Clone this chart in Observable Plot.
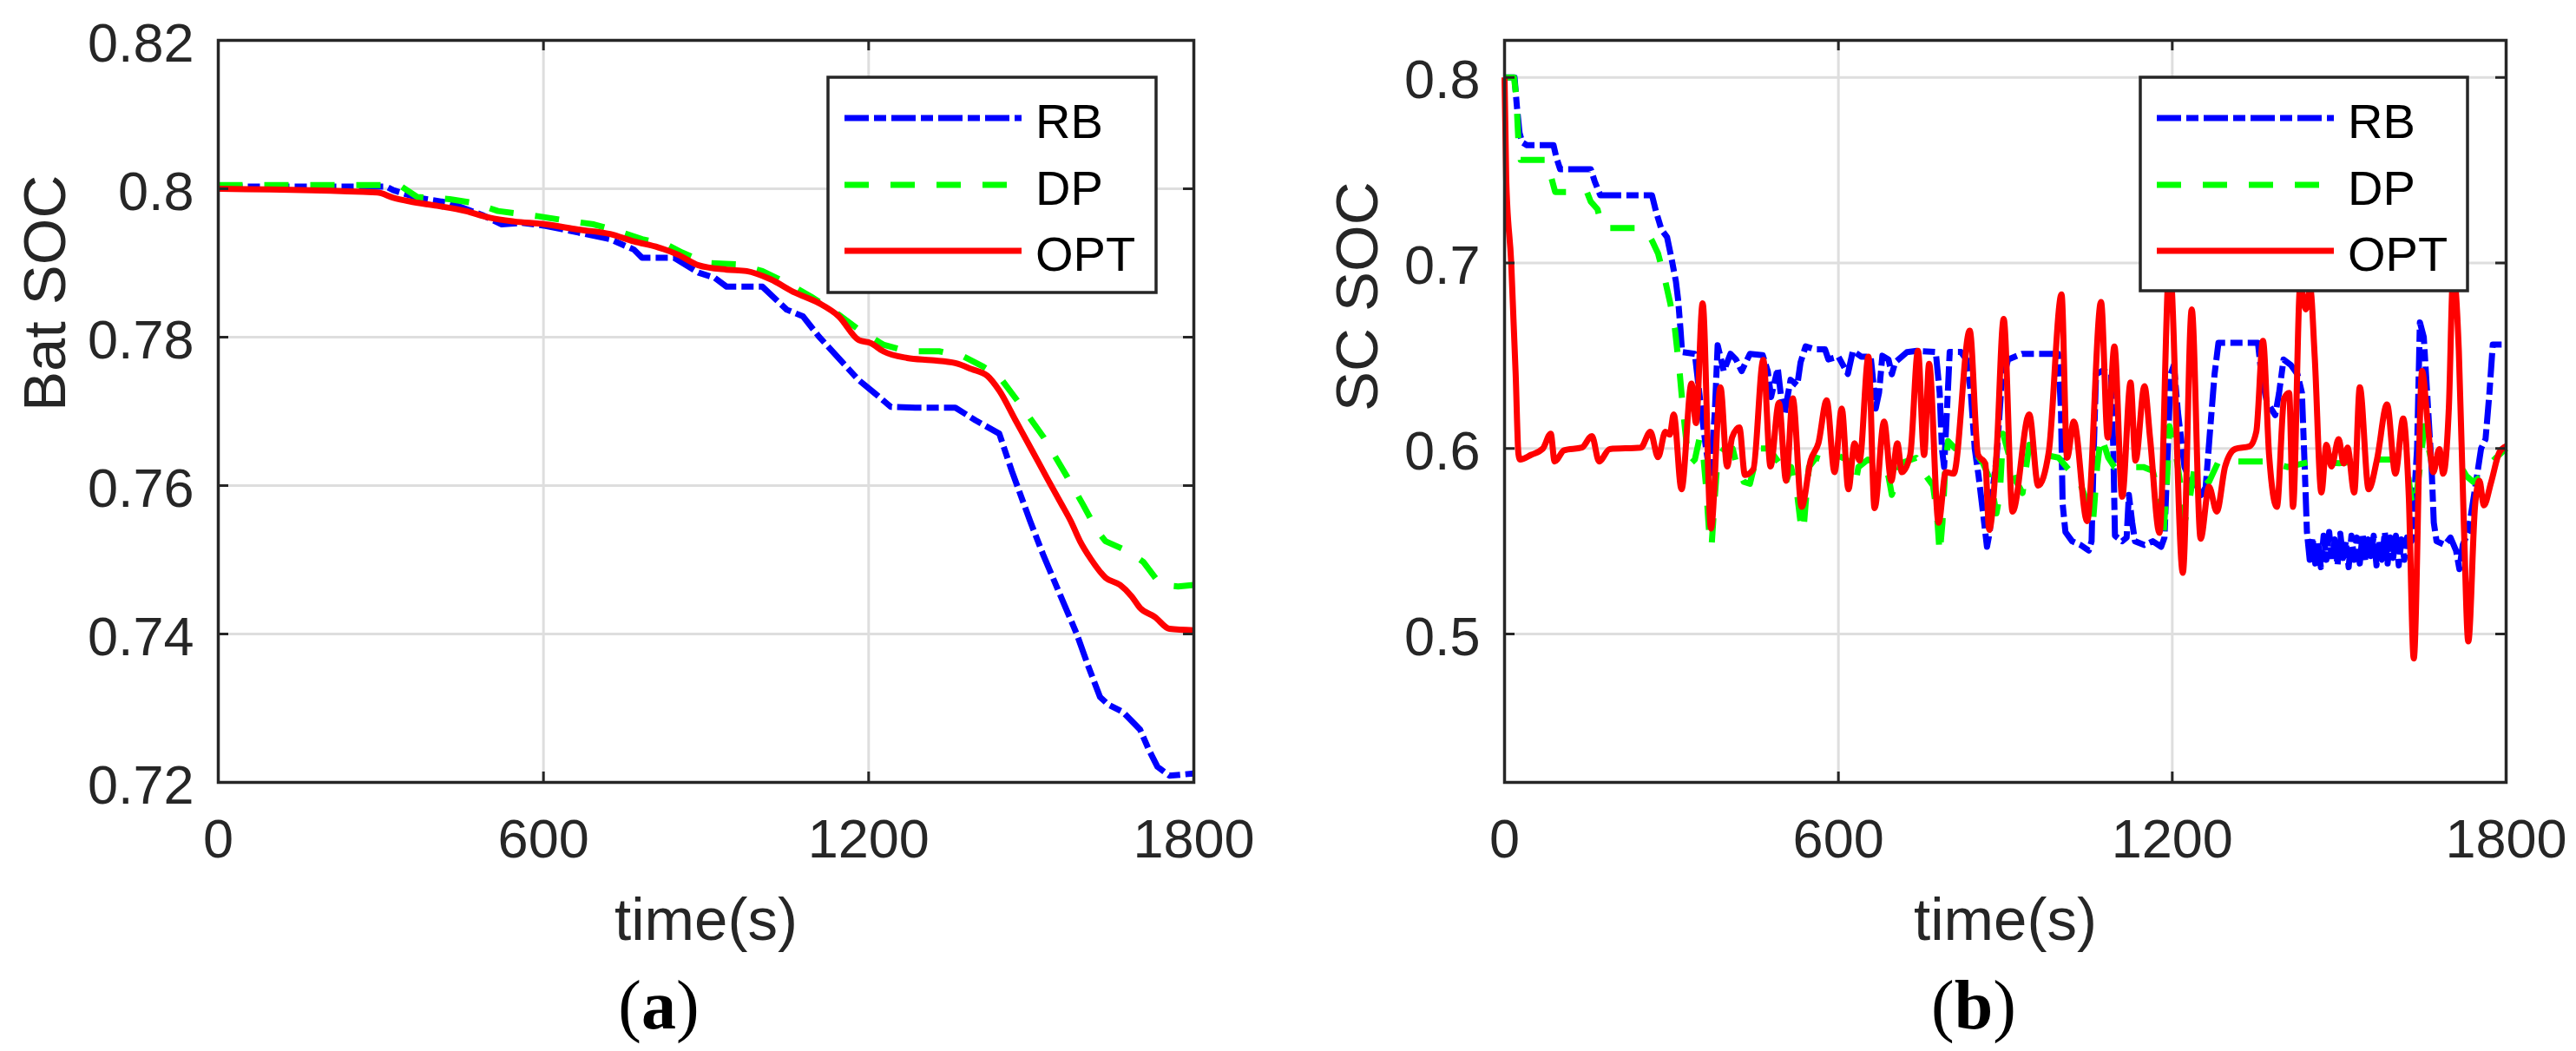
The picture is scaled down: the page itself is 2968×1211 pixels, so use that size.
<!DOCTYPE html>
<html><head><meta charset="utf-8">
<script src="https://cdn.jsdelivr.net/npm/d3@7"></script>
<script src="https://cdn.jsdelivr.net/npm/@observablehq/plot@0.6"></script>
<style>
html,body{margin:0;padding:0;background:#fff;}
#wrap{position:relative;width:2968px;height:1211px;background:#fff;overflow:hidden;}
#wrap > svg{position:absolute;top:0;}
</style></head><body><div id="wrap"></div>
<script>
// ---------- shared labels / styles ----------
const seriesNames = ["RB", "DP", "OPT"];
const seriesColors = ["#0000ff", "#00ff00", "#ff0000"];
const seriesDash = ["28,6,14,6", "28,25", null];
const timeTicks = [0, 600, 1200, 1800];
const batTicks = [0.72, 0.74, 0.76, 0.78, 0.8, 0.82];
const scTicks = [0.5, 0.6, 0.7, 0.8];
const xLabel = "time(s)";
const batLabel = "Bat SOC";
const scLabel = "SC SOC";
const captions = ["a", "b"];

// ---------- panel (a): battery SOC ----------
const batRB = [[0,0.8003],[310,0.8003],[323,0.7998],[367,0.7988],[427,0.7981],[486,0.7965],[523,0.7952],[560,0.7954],[604,0.795],[664,0.7941],[723,0.7932],[767,0.7918],[782,0.7907],[841,0.7907],[886,0.7887],[916,0.788],[938,0.7868],[1004,0.7868],[1049,0.7837],[1079,0.7828],[1108,0.7801],[1153,0.7765],[1182,0.7742],[1212,0.7724],[1241,0.7706],[1286,0.7705],[1360,0.7705],[1397,0.7688],[1441,0.767],[1464,0.762],[1498,0.7552],[1523,0.7505],[1552,0.7455],[1584,0.74],[1605,0.7357],[1627,0.7315],[1642,0.7305],[1669,0.7295],[1701,0.7271],[1717,0.7244],[1733,0.7221],[1755,0.7209],[1800,0.7212]];
const batDP = [[0,0.8005],[320,0.8005],[338,0.8003],[367,0.7989],[427,0.7986],[471,0.7981],[516,0.797],[590,0.7963],[634,0.7958],[693,0.7952],[738,0.7943],[782,0.7932],[827,0.7925],[856,0.7914],[901,0.79],[960,0.7898],[1004,0.7889],[1049,0.7873],[1093,0.7855],[1138,0.7834],[1182,0.781],[1227,0.779],[1271,0.7781],[1330,0.7781],[1375,0.7774],[1412,0.776],[1441,0.7747],[1479,0.771],[1523,0.7665],[1567,0.7611],[1595,0.7575],[1621,0.754],[1637,0.7525],[1680,0.7511],[1707,0.7497],[1739,0.7466],[1771,0.7464],[1800,0.7466]];
const batOPT = [[0,0.8],[293,0.7995],[323,0.7988],[353,0.7983],[404,0.7977],[456,0.797],[501,0.7961],[545,0.7956],[604,0.7952],[664,0.7945],[723,0.7939],[767,0.7929],[812,0.7921],[849,0.7911],[886,0.7897],[938,0.7891],[975,0.7889],[1019,0.7878],[1064,0.786],[1108,0.7846],[1145,0.7828],[1182,0.7796],[1204,0.7792],[1227,0.7781],[1271,0.7772],[1316,0.7769],[1360,0.7765],[1390,0.7757],[1419,0.7748],[1441,0.7728],[1471,0.7688],[1501,0.7648],[1530,0.7609],[1555,0.7576],[1573,0.7552],[1590,0.7525],[1610,0.7501],[1637,0.7476],[1664,0.7466],[1685,0.7451],[1701,0.7435],[1728,0.7423],[1755,0.7407],[1800,0.7405]];

// ---------- panel (b): supercapacitor SOC ----------
const scRB = [[0,0.8],[18,0.8],[22,0.785],[27,0.77],[32,0.765],[40,0.7635],[88,0.7635],[93,0.757],[100,0.7505],[155,0.7505],[162,0.744],[172,0.7365],[265,0.7365],[272,0.728],[282,0.718],[292,0.714],[300,0.7025],[308,0.69],[312,0.68],[316,0.665],[319,0.652],[342,0.651],[350,0.63],[362,0.6],[370,0.585],[378,0.62],[383,0.6557],[394,0.6417],[406,0.651],[416,0.648],[426,0.6417],[441,0.651],[464,0.6503],[473,0.6417],[479,0.6277],[491,0.6433],[497,0.6277],[503,0.6184],[514,0.637],[526,0.634],[532,0.6464],[541,0.655],[558,0.6534],[576,0.6534],[582,0.648],[600,0.6495],[617,0.6402],[626,0.6526],[641,0.6495],[658,0.6495],[663,0.635],[667,0.6215],[673,0.63],[679,0.65],[690,0.648],[696,0.64],[702,0.6464],[723,0.6519],[741,0.6526],[775,0.652],[782,0.63],[786,0.6],[790,0.59],[795,0.62],[800,0.652],[820,0.652],[830,0.648],[838,0.63],[845,0.6],[852,0.585],[860,0.565],[867,0.547],[872,0.555],[876,0.575],[884,0.594],[893,0.634],[905,0.648],[930,0.651],[995,0.651],[1000,0.62],[1003,0.57],[1008,0.555],[1020,0.55],[1035,0.548],[1050,0.545],[1055,0.55],[1059,0.6],[1063,0.64],[1075,0.642],[1090,0.64],[1094,0.6],[1097,0.553],[1110,0.55],[1118,0.552],[1122,0.575],[1128,0.56],[1133,0.55],[1150,0.548],[1165,0.55],[1180,0.547],[1186,0.552],[1192,0.6],[1197,0.64],[1203,0.645],[1210,0.62],[1222,0.59],[1236,0.58],[1252,0.575],[1260,0.579],[1268,0.61],[1276,0.64],[1283,0.657],[1354,0.657],[1360,0.64],[1370,0.625],[1385,0.618],[1392,0.63],[1400,0.648],[1413,0.645],[1425,0.64],[1433,0.63],[1438,0.59],[1442,0.555],[1447,0.54],[1452,0.552],[1457,0.538],[1462,0.55],[1467,0.536],[1472,0.553],[1477,0.54],[1482,0.555],[1487,0.539],[1492,0.551],[1497,0.537],[1502,0.554],[1507,0.541],[1512,0.55],[1517,0.536],[1522,0.553],[1527,0.54],[1532,0.552],[1537,0.538],[1542,0.554],[1547,0.539],[1552,0.551],[1557,0.542],[1562,0.553],[1567,0.537],[1572,0.55],[1577,0.54],[1582,0.555],[1587,0.538],[1592,0.552],[1597,0.541],[1602,0.553],[1607,0.537],[1612,0.551],[1617,0.54],[1622,0.552],[1630,0.55],[1640,0.6],[1645,0.668],[1652,0.66],[1660,0.62],[1666,0.59],[1670,0.56],[1675,0.55],[1690,0.548],[1700,0.552],[1710,0.545],[1716,0.535],[1722,0.548],[1732,0.555],[1745,0.58],[1755,0.6],[1763,0.605],[1770,0.63],[1776,0.656],[1800,0.656]];
const scDP = [[0,0.8],[17,0.8],[21,0.79],[25,0.765],[29,0.7555],[76,0.7555],[85,0.745],[91,0.7383],[148,0.7383],[155,0.733],[167,0.729],[175,0.72],[182,0.7188],[240,0.7188],[255,0.717],[265,0.712],[276,0.705],[289,0.69],[298,0.678],[306,0.665],[315,0.64],[321,0.62],[328,0.6],[335,0.592],[342,0.594],[350,0.605],[356,0.6],[362,0.58],[368,0.553],[372,0.547],[377,0.57],[383,0.595],[395,0.6],[410,0.6],[418,0.59],[430,0.582],[441,0.581],[450,0.592],[459,0.6],[475,0.6],[494,0.592],[506,0.582],[515,0.59],[526,0.575],[532,0.56],[537,0.555],[541,0.57],[547,0.59],[560,0.595],[582,0.593],[600,0.596],[615,0.594],[623,0.585],[630,0.58],[636,0.59],[653,0.594],[670,0.592],[680,0.59],[690,0.585],[696,0.575],[702,0.58],[712,0.592],[740,0.595],[752,0.59],[758,0.585],[770,0.58],[777,0.565],[782,0.543],[787,0.56],[792,0.59],[797,0.604],[810,0.6],[829,0.601],[845,0.598],[860,0.592],[870,0.585],[878,0.575],[884,0.565],[890,0.575],[896,0.608],[905,0.598],[920,0.582],[931,0.576],[943,0.602],[960,0.598],[980,0.596],[996,0.595],[1010,0.59],[1019,0.587],[1030,0.585],[1042,0.575],[1050,0.56],[1058,0.562],[1065,0.59],[1072,0.607],[1085,0.595],[1096,0.59],[1148,0.59],[1165,0.588],[1175,0.575],[1184,0.552],[1190,0.58],[1195,0.612],[1205,0.6],[1215,0.58],[1222,0.56],[1230,0.57],[1240,0.59],[1255,0.585],[1266,0.582],[1283,0.593],[1325,0.593],[1371,0.593],[1407,0.59],[1450,0.593],[1500,0.592],[1559,0.594],[1589,0.594],[1610,0.594],[1622,0.59],[1630,0.572],[1636,0.568],[1645,0.59],[1653,0.612],[1665,0.594],[1700,0.594],[1715,0.592],[1729,0.585],[1741,0.582],[1755,0.585],[1765,0.59],[1782,0.595],[1800,0.6]];
const scOPT = [[0,0.8],[3,0.745],[12,0.7],[20,0.64],[25,0.597],[28,0.594],[48,0.5966],[69,0.6],[83,0.608],[90,0.593],[107,0.599],[139,0.6005],[157,0.6067],[170,0.593],[189,0.5997],[245,0.6005],[262,0.609],[276,0.5953],[289,0.609],[297,0.6075],[304,0.6184],[318,0.578],[336,0.635],[344,0.6137],[356,0.6783],[371,0.5569],[388,0.633],[400,0.5903],[409,0.606],[422,0.6114],[432,0.5857],[447,0.5888],[465,0.6477],[478,0.5903],[493,0.6246],[506,0.5826],[518,0.627],[534,0.5685],[550,0.5935],[564,0.6028],[579,0.626],[593,0.5872],[606,0.6215],[618,0.578],[629,0.6028],[638,0.5935],[654,0.6495],[665,0.5678],[682,0.6145],[695,0.5826],[706,0.6028],[714,0.5872],[729,0.5965],[743,0.6526],[754,0.5965],[763,0.6456],[780,0.56],[793,0.5872],[807,0.5864],[836,0.6635],[851,0.5965],[864,0.5919],[871,0.5561],[884,0.5965],[897,0.6698],[913,0.566],[943,0.6184],[959,0.58],[978,0.598],[1001,0.683],[1011,0.595],[1023,0.6145],[1047,0.5608],[1072,0.679],[1084,0.6059],[1096,0.655],[1110,0.574],[1125,0.6355],[1134,0.5935],[1150,0.6336],[1160,0.6059],[1177,0.5545],[1195,0.7],[1219,0.533],[1235,0.675],[1251,0.5514],[1266,0.5794],[1280,0.566],[1295,0.5903],[1313,0.5997],[1339,0.6012],[1351,0.609],[1363,0.658],[1374,0.5965],[1388,0.5685],[1401,0.627],[1410,0.63],[1417,0.5685],[1430,0.688],[1440,0.675],[1448,0.686],[1456,0.6495],[1468,0.5763],[1477,0.602],[1486,0.5903],[1499,0.605],[1508,0.5919],[1515,0.6005],[1527,0.5763],[1537,0.633],[1553,0.578],[1568,0.5942],[1586,0.6238],[1601,0.5864],[1615,0.6161],[1625,0.5748],[1634,0.4868],[1649,0.6417],[1659,0.6137],[1669,0.5872],[1680,0.5997],[1687,0.5864],[1697,0.6215],[1705,0.695],[1715,0.6526],[1724,0.5592],[1732,0.496],[1744,0.5685],[1752,0.5826],[1760,0.5693],[1773,0.5818],[1788,0.598],[1800,0.6012]];

// ---------- drawing ----------
const INK = "#262626", GRID = "#dedede";
const FONT = '"Liberation Sans", Arial, Helvetica, sans-serif';

function panel({width, left, marginLeft, marginRight, yDomain, yTicks, series, yLabel, yLabelDx, curves}) {
  const height = 1110, marginTop = 46, marginBottom = 209;
  const frameW = width - marginLeft - marginRight, frameH = height - marginTop - marginBottom;
  const fmt = d => `${d}`;
  const lineMarks = series.map((s, i) => {
    const o = {x: d => d[0], y: d => d[1], stroke: seriesColors[i], strokeWidth: 7,
      strokeLinecap: "butt", strokeLinejoin: "round", curve: curves[i]};
    if (seriesDash[i]) o.strokeDasharray = seriesDash[i];
    return Plot.line(s, o);
  });
  const svg = Plot.plot({
    width, height, marginLeft, marginRight, marginTop, marginBottom,
    x: {domain: [0, 1800]},
    y: {domain: yDomain},
    style: {fontFamily: FONT, fontSize: "63px", color: INK, background: "transparent", overflow: "visible"},
    marks: [
      Plot.ruleX(timeTicks, {x: d => d, stroke: GRID, strokeWidth: 3}),
      Plot.ruleY(yTicks, {y: d => d, stroke: GRID, strokeWidth: 3}),
      ...lineMarks,
      Plot.tickX(timeTicks, {x: d => d, insetTop: frameH - 12, stroke: INK, strokeWidth: 3}),
      Plot.tickX(timeTicks, {x: d => d, insetBottom: frameH - 12, stroke: INK, strokeWidth: 3}),
      Plot.tickY(yTicks, {y: d => d, insetRight: frameW - 12, stroke: INK, strokeWidth: 3}),
      Plot.tickY(yTicks, {y: d => d, insetLeft: frameW - 12, stroke: INK, strokeWidth: 3}),
      Plot.frame({stroke: INK, strokeWidth: 3.5}),
      Plot.axisX(timeTicks, {tickSize: 0, tickPadding: 42, tickFormat: fmt, fontSize: 63, label: null, fill: INK}),
      Plot.axisY(yTicks, {tickSize: 0, tickPadding: 28, tickFormat: fmt, fontSize: 63, label: null, fill: INK, dy: 4}),
      Plot.text([xLabel], {text: d => d, frameAnchor: "bottom", dy: 181, lineAnchor: "bottom", fontSize: 69, fill: INK}),
      Plot.text([yLabel], {text: d => d, frameAnchor: "left", rotate: -90, dx: yLabelDx, lineAnchor: "bottom", fontSize: 69, fill: INK})
    ]
  });
  svg.style.left = left + "px";
  document.getElementById("wrap").appendChild(svg);
}

panel({width: 1480, left: 0, marginLeft: 251, marginRight: 105, yDomain: [0.72, 0.82], yTicks: batTicks,
  series: [batRB, batDP, batOPT], yLabel: batLabel, yLabelDx: -177, curves: ["linear", "linear", "monotone-x"]});
panel({width: 1488, left: 1480, marginLeft: 253, marginRight: 81, yDomain: [0.42, 0.82], yTicks: scTicks,
  series: [scRB, scDP, scOPT], yLabel: scLabel, yLabelDx: -147, curves: ["linear", "linear", "monotone-x"]});

// ---------- legends and captions (overlay) ----------
const ov = d3.select("#wrap").append("svg").attr("width", 2968).attr("height", 1211).style("left", "0px");
function legend(x0, y0, w, h) {
  const g = ov.append("g");
  g.append("rect").attr("x", x0).attr("y", y0).attr("width", w).attr("height", h)
    .attr("fill", "#fff").attr("stroke", INK).attr("stroke-width", 3.5);
  const rows = [47, 124, 200];
  seriesNames.forEach((name, i) => {
    const y = y0 + rows[i];
    const l = g.append("line").attr("x1", x0 + 19).attr("x2", x0 + 223).attr("y1", y).attr("y2", y)
      .attr("stroke", seriesColors[i]).attr("stroke-width", 7).attr("stroke-linecap", "butt");
    if (seriesDash[i]) l.attr("stroke-dasharray", seriesDash[i]);
    g.append("text").attr("x", x0 + 239).attr("y", y + 23).attr("font-family", FONT)
      .attr("font-size", 56).attr("fill", "#000").text(name);
  });
}
legend(954, 89, 378, 248);
legend(2466, 89, 377, 246);

function caption(cx, letter) {
  const t = ov.append("text").attr("x", cx).attr("y", 1185).attr("text-anchor", "middle")
    .attr("font-family", '"Liberation Serif", "Times New Roman", serif').attr("font-size", 80).attr("fill", "#000");
  t.append("tspan").text("(");
  t.append("tspan").attr("font-weight", "bold").text(letter);
  t.append("tspan").text(")");
}
caption(759, captions[0]);
caption(2274, captions[1]);
</script></body></html>
